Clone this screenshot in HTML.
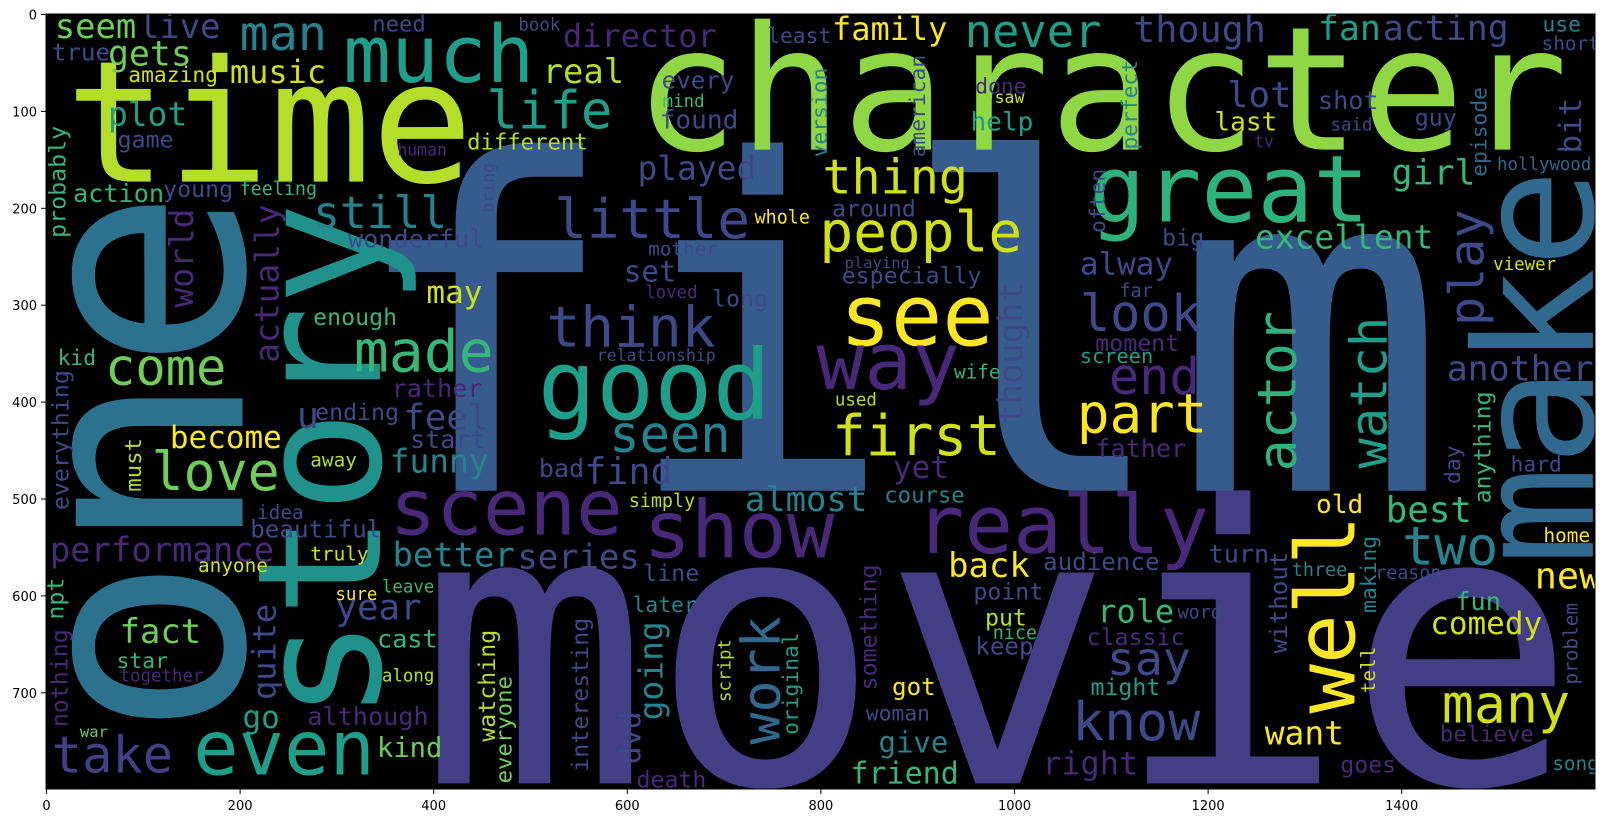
<!DOCTYPE html>
<html><head><meta charset="utf-8"><style>
html,body{margin:0;padding:0;background:#fff;overflow:hidden;width:1606px;height:823px;}
svg{display:block;}
text{font-family:"DejaVu Sans Mono","Liberation Mono",monospace;}
.tick{font-family:"DejaVu Sans","Liberation Sans",sans-serif;font-size:13px;fill:#000;}
</style></head><body>
<svg id="fig" width="1606" height="823" viewBox="0 0 1606 823" xmlns="http://www.w3.org/2000/svg">
<defs><clipPath id="imgclip"><rect x="0" y="0" width="1600" height="800"/></clipPath></defs>
<g id="image" transform="translate(46,14) scale(0.968,0.969)">
<rect x="0" y="0" width="1600" height="800" fill="#000"/>
<g id="words" clip-path="url(#imgclip)"></g>
</g>
<g id="axes"></g>
</svg>
<script>
const C={p1:'#440154',p2:'#482878',pm:'#433e85',p3:'#3e4989',b:'#31688e',bb:'#365c8d',bo:'#2c728e',t:'#26828e',tg:'#1f9e89',st:'#21918c',g:'#35b779',gr:'#2db27d',lg:'#6ece58',yg:'#b5de2b',gy:'#8fd744',yy:'#d0e11c',y:'#fde725'};
const words=[
'film','movie','one','story','make','time','character','much','man','seem',
'live','true','gets','amazing','music','plot','game','different','action','young',
'feeling','probably','world','wonderful','director','real','family','life','never','though',
'fan','acting','use','short','least','book','need','every','mind','done',
'saw','lot','help','shot','last','said','guy','hollywood','girl','great',
'thing','people','still','little','played','found','human','excellent','alway','especially',
'playing','around','whole','set','may','think','see','look','made','come',
'enough','actually','kid','everything','relationship','way','good','end','rather','ending',
'feel','u','first','part','thought','seen','love','become','start','funny',
'find','bad','yet','father','moment','screen','wife','used','must','away',
'almost','course','simply','scene','show','really','beautiful','idea','performance','better',
'series','two','best','old','turn','audience','line','back','anyone','new',
'well','actor','watch','play','episode','bit','another','day','anything','hard',
'home','reason','three','making','problem','fun','comedy','many','believe','song',
'goes','want','tell','without','role','say','know','might','right','point',
'put','keep','classic','got','woman','give','friend','something','going','work',
'original','script','watching','interesting','everyone','dvd','death','year','cast','along',
'kind','although','quite','go','fact','star','together','nothing','npt','war',
'take','even','bring','mother','loved','long','version','american','perfect','big',
'far','tv','often','viewer','sure','leave','truly','nice','later','word'];
const xs=[
309,384,203,345,1598,20,608,307,200,9,
96,6,64,85,190,64,74,435,28,121,
200,20,152,312,534,513,812,455,949,1123,
1314,1381,1546,1545,745,488,337,636,637,960,
980,1220,955,1314,1207,1327,1414,1499,1390,1078,
802,799,276,525,611,634,363,1249,1068,822,
825,812,732,597,393,517,820,1068,318,61,
276,240,12,23,569,796,508,1098,357,278,
369,259,812,1065,1009,582,109,128,376,355,
556,509,875,1084,1084,1068,938,815,98,273,
722,866,602,355,617,898,211,218,4,358,
487,1401,1384,1312,1201,1030,617,932,157,1538,
1352,1291,1385,1485,1488,1586,1447,1461,1492,1513,
1547,1373,1287,1374,1582,1456,1430,1442,1440,1556,
1337,1259,1373,1282,1086,1096,1060,1079,1029,958,
970,960,1075,874,847,860,831,858,637,758,
777,707,464,560,481,614,610,299,342,347,
342,270,237,203,76,73,76,22,18,35,
6,152,463,622,619,688,807,908,1127,1153,
1109,1248,1094,1495,299,347,273,978,606,1169];
const ys=[
492,794,748,730,569,173,140,70,37,25,
25,48,53,70,71,115,138,140,194,189,
187,231,303,241,34,71,27,118,34,29,
27,27,18,37,30,17,18,77,96,82,
92,96,120,98,120,120,115,161,176,214,
185,245,221,231,171,118,146,242,269,278,
262,209,216,276,298,343,342,327,369,383,
321,360,362,512,358,387,418,392,395,419,
429,427,455,432,424,452,491,448,448,473,
485,478,479,457,348,360,376,404,493,467,
513,504,509,537,561,556,540,521,565,570,
572,568,524,515,566,574,585,581,576,593,
722,472,469,322,168,144,378,485,505,472,
545,583,580,618,692,615,640,731,751,780,
783,754,701,660,628,682,749,703,785,604,
631,661,651,703,729,762,794,698,729,754,
744,710,751,782,794,774,798,625,654,689,
767,734,708,737,649,675,689,736,625,746,
783,785,205,249,293,302,148,148,140,239,
292,137,226,264,605,597,564,645,617,624];
const sizes=[
473,398,315,178,170,175,178,82,50,35,
35,25,36,22,33,34,24,23,26,24,
19,24,34,26,33,35,33,54,47,38,
36,36,22,20,22,18,23,25,18,22,
17,37,27,26,27,18,24,18,36,96,
50,58,46,56,34,27,17,34,32,24,
16,24,19,30,32,58,88,52,60,52,
24,34,22,24,17,82,100,52,26,24,
37,38,58,56,35,52,55,32,26,34,
38,26,32,26,24,21,20,18,23,20,
35,23,19,80,82,84,25,20,35,35,
35,55,37,27,26,25,24,35,20,38,
85,55,52,50,22,32,36,22,24,22,
20,19,19,22,20,26,32,55,23,20,
24,34,20,25,33,48,55,24,33,24,
24,25,24,25,22,30,31,24,34,55,
22,18,24,24,23,30,24,37,26,18,
28,26,33,32,35,22,18,24,24,16,
52,78,17,20,18,24,22,22,22,24,
19,17,22,18,18,18,20,19,22,19];
const colors=[
'bb','pm','bo','st','b','yg','gy','tg','t','lg',
'p3','p3','lg','yy','yy','tg','p3','yg','g','p3',
'g','g','p2','p3','p2','yg','y','tg','tg','p3',
'tg','p3','t','p3','p3','p3','p3','p3','g','p2',
'yy','p3','tg','p3','yy','p3','p3','b','g','gr',
'yy','yy','t','p3','p3','p3','p2','g','p3','p3',
'p3','p3','y','p3','yy','p3','y','p3','g','lg',
'g','p2','g','p3','p3','p2','tg','p2','p2','p3',
'p3','p3','yy','y','p3','t','lg','y','p3','t',
'p3','p3','p2','p2','p2','tg','g','yg','yg','yg',
't','t','yg','p2','p2','p2','p3','p3','p2','t',
'p3','t','g','y','p3','p3','p3','y','yy','y',
'y','gr','tg','p3','b','p3','p3','p3','g','p3',
'y','p3','t','t','p3','g','yy','yy','p2','t',
'p2','y','yy','p3','g','p3','p3','tg','p2','p3',
'yg','p3','p2','y','p3','t','g','p2','t','b',
'tg','yg','yg','p3','lg','p3','p2','p3','g','yg',
'lg','p2','p3','tg','lg','g','p2','p2','g','lg',
'pm','tg','p3','p3','p2','p3','t','p3','t','p3',
'p3','p2','p3','yy','y','g','yy','g','t','p3'];
const rots=[
0,0,1,1,1,0,0,0,0,0,
0,0,0,0,0,0,0,0,0,0,
0,1,1,0,0,0,0,0,0,0,
0,0,0,0,0,0,0,0,0,0,
0,0,0,0,0,0,0,0,0,0,
0,0,0,0,0,0,0,0,0,0,
0,0,0,0,0,0,0,0,0,0,
0,1,0,1,0,0,0,0,0,0,
0,0,0,0,1,0,0,0,0,0,
0,0,0,0,0,0,0,0,1,0,
0,0,0,0,0,0,0,0,0,0,
0,0,0,0,0,0,0,0,0,0,
1,1,1,1,1,1,0,1,1,0,
0,0,0,1,1,0,0,0,0,0,
0,0,1,1,0,0,0,0,0,0,
0,0,0,0,0,0,0,1,1,1,
1,1,1,1,1,1,0,0,0,0,
0,0,1,0,0,0,0,1,1,0,
0,0,1,0,0,0,1,1,1,0,
0,0,1,0,0,0,0,0,0,0];

const NS='http://www.w3.org/2000/svg';
const wg=document.getElementById('words');
for(let i=0;i<words.length;i++){
  const t=document.createElementNS(NS,'text');
  t.textContent=words[i];
  t.setAttribute('font-size',sizes[i]);
  t.setAttribute('fill',C[colors[i]]);
  t.setAttribute('transform','translate('+xs[i]+','+ys[i]+')'+(rots[i]?' rotate(-90)':''));
  
  
  wg.appendChild(t);
}
const xTicks=[0,200,400,600,800,1000,1200,1400];
const yTicks=[0,100,200,300,400,500,600,700];
const ax=document.getElementById('axes');
const X=v=>46+v*0.968+0.5, Y=v=>14+v*0.969+0.5;
function mk(tag,attrs){const e=document.createElementNS(NS,tag);for(const k in attrs)e.setAttribute(k,attrs[k]);return e;}
const frame=mk('rect',{x:46,y:14,width:1549,height:775,fill:'none',stroke:'#000','stroke-width':1});


ax.appendChild(frame);
xTicks.forEach(v=>{
  const l=mk('line',{x1:X(v),x2:X(v),y1:789,y2:794,stroke:'#000','stroke-width':1});
  
  
  ax.appendChild(l);
  const t=mk('text',{x:X(v),y:810,'text-anchor':'middle',class:'tick'});
  t.textContent=v;
  
  
  ax.appendChild(t);
});
yTicks.forEach(v=>{
  const l=mk('line',{x1:41,x2:46,y1:Y(v),y2:Y(v),stroke:'#000','stroke-width':1});
  
  
  ax.appendChild(l);
  const t=mk('text',{x:37,y:Y(v)+5,'text-anchor':'end',class:'tick'});
  t.textContent=v;
  
  
  ax.appendChild(t);
});
</script>
</body></html>
